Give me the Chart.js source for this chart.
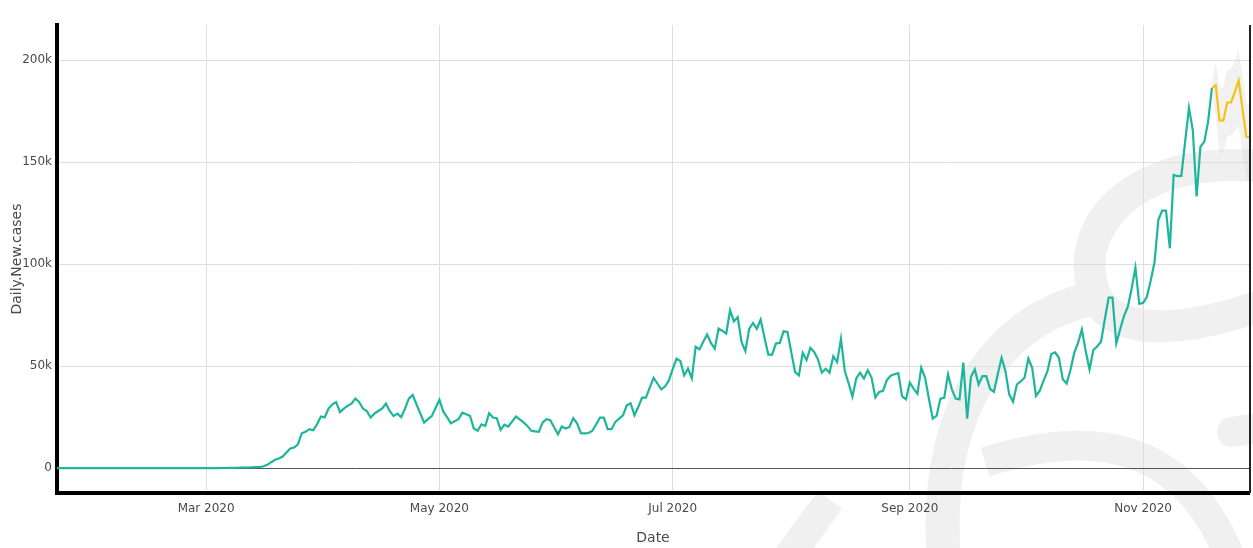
<!DOCTYPE html>
<html>
<head>
<meta charset="utf-8">
<title>Daily new cases</title>
<script src="https://cdn.jsdelivr.net/npm/chart.js@4.4.1/dist/chart.umd.min.js"></script>
<style>
  html, body { margin: 0; padding: 0; background: #fff; }
  #wrap { width: 1253px; height: 548px; }
</style>
</head>
<body>
<div id="wrap"><canvas id="chart" width="1253" height="548"></canvas></div>
<script>
// Day index 0 = 22 Jan 2020; values in thousands of cases.
const firstDay = 0;
const dailyNewCases = [
  0, 0, 0.001, 0, 0.002, 0, 0, 0, 0, 0.001,
  0.001, 0, 0.001, 0, 0, 0, 0.001, 0, 0, 0,
  0, 0, 0, 0, 0, 0, 0, 0.001, 0, 0.002,
  0, 0.001, 0.002, 0.004, 0.008, 0.003, 0.005, 0.006, 0.009, 0.012,
  0.018, 0.025, 0.03, 0.055, 0.07, 0.09, 0.12, 0.17, 0.22, 0.3,
  0.3, 0.4, 0.5, 0.5, 0.9, 1.6, 2.9, 4.1, 4.7, 5.7,
  7.7, 9.6, 10.1, 11.7, 17.1, 17.8, 19.1, 18.6, 21.5, 25.3,
  24.8, 29.2, 31.3, 32.4, 27.5, 29.2, 30.5, 31.6, 34.1, 32.4,
  29.2, 28.0, 24.8, 26.7, 28.0, 29.2, 31.7, 28.0, 25.5, 26.7,
  25.0, 29.2, 34.1, 35.9, 31.3, 26.8, 22.3, 24.0, 25.5, 29.5,
  33.5, 27.8, 25.0, 22.0, 23.0, 24.0, 27.2, 26.4, 25.6, 19.4,
  18.3, 21.5, 20.7, 26.9, 24.8, 24.5, 18.8, 21.3, 20.4, 22.8,
  25.3, 23.9, 22.4, 20.7, 18.3, 18.0, 17.8, 22.4, 24.0, 23.5,
  20.0, 16.6, 20.4, 19.4, 20.2, 24.5, 22.0, 17.1, 17.0, 17.2,
  18.3, 21.5, 24.8, 24.8, 19.1, 19.1, 22.7, 24.3, 25.9, 30.8,
  31.8, 25.9, 30.0, 34.6, 34.6, 39.5, 44.3, 41.5, 38.6, 40.0,
  43.0, 48.5, 53.7, 52.5, 45.5, 48.8, 44.0, 59.5, 58.2, 62.0,
  65.5, 61.4, 58.6, 68.5, 67.3, 66.0, 77.4, 72.0, 74.0, 61.9,
  57.4, 68.3, 71.2, 68.3, 72.9, 64.0, 55.7, 55.7, 61.1, 61.4,
  67.1, 66.8, 57.0, 47.1, 45.5, 56.5, 53.0, 59.0, 57.0, 53.3,
  46.8, 48.7, 46.8, 54.9, 52.0, 63.4, 47.6, 41.6, 35.0, 44.0,
  46.8, 44.0, 48.0, 44.4, 34.7, 37.4, 37.9, 43.2, 45.3, 46.0,
  46.6, 35.2, 33.7, 42.0, 39.0, 36.5, 49.2, 44.3, 34.0, 24.3,
  25.6, 34.1, 34.5, 46.0, 38.6, 34.1, 33.7, 51.7, 24.3, 44.8,
  48.4, 41.0, 45.1, 45.1, 38.8, 37.4, 46.0, 54.1, 47.6, 36.2,
  32.5, 41.0, 42.5, 44.3, 53.7, 49.2, 35.4, 38.0, 43.0, 47.6,
  56.0, 56.8, 54.1, 43.6, 41.5, 48.0, 56.5, 61.4, 68.0, 57.4,
  48.4, 57.9, 59.7, 62.0, 73.0, 83.6, 83.6, 61.1, 68.0, 74.5,
  79.0, 88.0, 98.3, 80.6, 81.0, 84.0, 92.0, 101.0, 121.8, 126.3,
  126.3, 107.8, 143.8, 143.2, 143.3, 160.0, 176.7, 165.8, 133.2, 157.6,
  160.0, 169.8, 186.5
];

// Forecast (starts on 19 Nov 2020) with its uncertainty band.
const forecastStartDay = 302;
const forecastValues = [186.5, 187.8, 170.5, 170.5, 179.3, 179.3, 184.6, 190.0, 176.2, 162.5, 162.3];
const forecastUpper  = [190.0, 199.0, 186.0, 187.0, 195.0, 196.0, 200.0, 205.0, 192.0, 179.0, 178.0];
const forecastLower  = [183.0, 173.0, 154.0, 155.0, 162.5, 163.0, 165.0, 168.0, 155.0, 141.5, 140.5];

// Axis ticks: first day of every other month, and the y steps.
const monthTickDays = [39, 100, 161, 223, 284];
const monthTickLabels = ['Mar 2020', 'May 2020', 'Jul 2020', 'Sep 2020', 'Nov 2020'];
const yTickValues = [0, 50, 100, 150, 200];

const xMin = 0, xMax = 311.7;
const yMin = -12.2, yMax = 217.3;

const toPoints = (arr, start) => arr.map((v, i) => ({ x: start + i, y: v }));

const axisFont = { family: 'DejaVu Sans', size: 12 };
const titleFont = { family: 'DejaVu Sans', size: 14 };
const textColor = '#4a4a4a';
const gridColor = '#dedede';

// Light background logo strokes plus white page fill.
const backdrop = {
  id: 'backdrop',
  beforeDraw(chart) {
    const ctx = chart.ctx;
    ctx.save();
    ctx.fillStyle = '#fff';
    ctx.fillRect(0, 0, chart.width, chart.height);
    ctx.strokeStyle = '#f0f0f0';
    ctx.lineCap = 'butt';
    ctx.lineWidth = 32;
    ctx.beginPath();
    ctx.moveTo(1275, 168);
    ctx.bezierCurveTo(1150, 150, 1075, 215, 1092, 285);
    ctx.bezierCurveTo(1105, 345, 1200, 330, 1275, 300);
    ctx.stroke();
    ctx.lineWidth = 34;
    ctx.beginPath();
    ctx.moveTo(945, 570);
    ctx.bezierCurveTo(930, 420, 990, 320, 1095, 298);
    ctx.stroke();
    ctx.lineWidth = 30;
    ctx.beginPath();
    ctx.moveTo(985, 462);
    ctx.bezierCurveTo(1080, 432, 1185, 430, 1235, 570);
    ctx.stroke();
    ctx.beginPath();
    ctx.moveTo(775, 575);
    ctx.lineTo(830, 500);
    ctx.stroke();
    ctx.lineCap = 'round';
    ctx.beginPath();
    ctx.moveTo(1275, 425);
    ctx.lineTo(1232, 432);
    ctx.stroke();
    ctx.restore();
  }
};

// Thin dark frame line on the right edge of the plot.
const rightFrame = {
  id: 'rightFrame',
  afterDraw(chart) {
    const { ctx, chartArea } = chart;
    ctx.save();
    ctx.strokeStyle = '#222';
    ctx.lineWidth = 2;
    ctx.beginPath();
    ctx.moveTo(chartArea.right + 1, chartArea.top);
    ctx.lineTo(chartArea.right + 1, chartArea.bottom);
    ctx.stroke();
    ctx.restore();
  }
};

new Chart(document.getElementById('chart'), {
  type: 'line',
  data: {
    datasets: [
      {
        label: 'Daily new cases',
        data: toPoints(dailyNewCases, firstDay),
        borderColor: '#1db59c',
        borderWidth: 2.2,
        pointRadius: 0,
        fill: false,
        order: 1
      },
      {
        label: 'Forecast',
        data: toPoints(forecastValues, forecastStartDay),
        borderColor: '#f2c318',
        borderWidth: 2.2,
        pointRadius: 0,
        fill: false,
        order: 0
      },
      {
        label: 'Upper',
        data: toPoints(forecastUpper, forecastStartDay),
        borderWidth: 0,
        borderColor: 'rgba(0,0,0,0)',
        backgroundColor: 'rgba(215,215,215,0.35)',
        pointRadius: 0,
        fill: '+1',
        order: 5
      },
      {
        label: 'Lower',
        data: toPoints(forecastLower, forecastStartDay),
        borderWidth: 0,
        borderColor: 'rgba(0,0,0,0)',
        pointRadius: 0,
        fill: false,
        order: 6
      }
    ]
  },
  options: {
    responsive: false,
    animation: false,
    layout: { padding: { top: 25, right: 4, left: 0, bottom: 0 } },
    plugins: { legend: { display: false }, tooltip: { enabled: false } },
    scales: {
      x: {
        type: 'linear',
        min: xMin,
        max: xMax,
        afterBuildTicks: s => { s.ticks = monthTickDays.map(v => ({ value: v })); },
        afterFit: s => { s.height = 55; },
        ticks: {
          callback: (v, i) => monthTickLabels[i],
          color: textColor,
          font: axisFont,
          padding: 9,
          maxRotation: 0,
          autoSkip: false
        },
        grid: { color: gridColor, drawTicks: false },
        border: { color: '#000', width: 4 },
        title: { display: true, text: 'Date', color: textColor, font: titleFont, padding: { top: 0, bottom: 1 } }
      },
      y: {
        min: yMin,
        max: yMax,
        afterBuildTicks: s => { s.ticks = yTickValues.map(v => ({ value: v })); },
        afterFit: s => { s.width = 57; },
        ticks: {
          callback: v => (v === 0 ? '0' : v + 'k'),
          color: textColor,
          font: axisFont,
          padding: 5
        },
        grid: {
          color: c => (c.tick && c.tick.value === 0 ? '#555' : gridColor),
          drawTicks: false
        },
        border: { color: '#000', width: 4 },
        title: { display: true, text: 'Daily.New.cases', color: textColor, font: titleFont, padding: { top: 9, bottom: 0 } }
      }
    }
  },
  plugins: [backdrop, rightFrame]
});
</script>
</body>
</html>
